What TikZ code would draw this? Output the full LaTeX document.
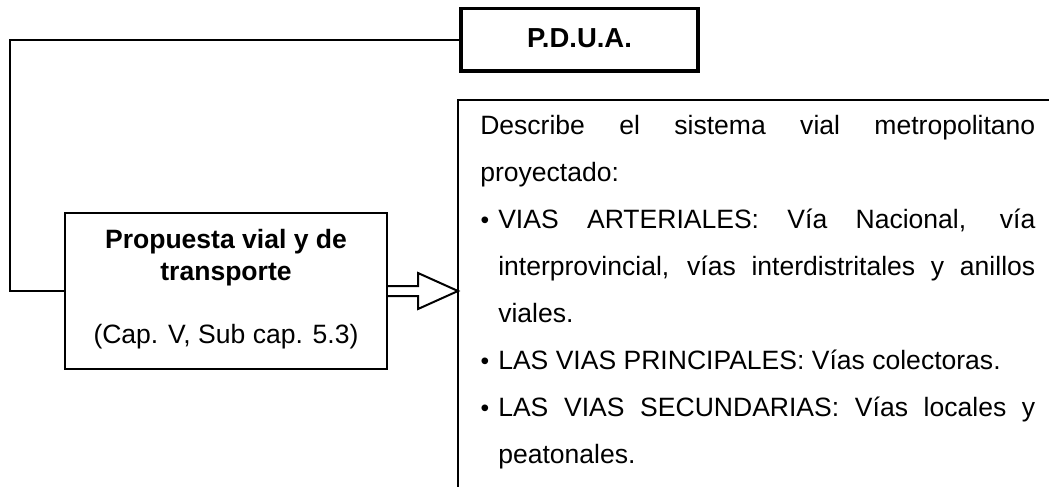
\documentclass[tikz,border=0pt]{standalone}
\usepackage{fontspec}
\setmainfont{Liberation Sans}
\begin{document}
\begin{tikzpicture}[x=0.75pt,y=-0.75pt,
  box/.style={draw, line width=1.5pt, inner sep=0pt, fill=white},
  ln/.style={line width=1.5pt},
  body/.style={font=\fontsize{19.9}{24}\selectfont, inner sep=0pt},
  bodyb/.style={font=\fontsize{19.9}{24}\selectfont\bfseries, inner sep=0pt},
  bul/.style={font=\fontsize{18.5}{22}\selectfont, inner sep=0pt, anchor=base}]
\useasboundingbox (0,0) rectangle (1049,487);
\fill[white] (0,0) rectangle (1049,487);
% P.D.U.A. box
\node[box, line width=2.4pt, minimum width=177.75pt, minimum height=46.9pt] (pdua) at (579.5,39.75) {};
\node[font=\fontsize{20.6}{24}\selectfont\bfseries, inner sep=0pt, anchor=base] (pduat) at (579.5,47.5) {P.D.U.A.};
% left box
\node[box, minimum width=241.5pt, minimum height=117pt] (prop) at (226,291) {};
\node[bodyb, anchor=base] (p1) at (226,248) {Propuesta vial y de};
\node[bodyb, anchor=base] (p2) at (226,280) {transporte};
\node[body, anchor=base] (p3) at (226,343) {(Cap. V, Sub cap. 5.3)};
% connector
\coordinate (corner) at (10,39.75);
\draw[ln] (pdua.west) -- (corner) |- (prop.west);
% right box (open)
\coordinate (rtop) at (1049,100);
\coordinate (rcorner) at (458,100);
\coordinate (rbot) at (458,487);
\draw[ln] (rtop) -- (rcorner) -- (rbot);
\coordinate (tip) at (458,291);
% block arrow
\draw[ln, fill=white, line join=miter] (prop.east |- 0,286) -- (418,286) -- (418,273) -- (tip) -- (418,309) -- (418,296) -- (prop.east |- 0,296);
% right box text
\node[body, anchor=base west] (r1) at (480,134) {\makebox[416.25pt][s]{Describe el sistema vial metropolitano}};
\node[body, anchor=base west] (r2) at (480,181) {proyectado:};
\node[bul] (b1) at (485,228) {\textbullet};
\node[body, anchor=base west] (r3) at (498,228) {\makebox[402.75pt][s]{VIAS ARTERIALES: Vía Nacional, vía}};
\node[body, anchor=base west] (r4) at (498,275) {\makebox[402.75pt][s]{interprovincial, vías interdistritales y anillos}};
\node[body, anchor=base west] (r5) at (498,322) {viales.};
\node[bul] (b2) at (485,369) {\textbullet};
\node[body, anchor=base west] (r6) at (498,369) {LAS VIAS PRINCIPALES: Vías colectoras.};
\node[bul] (b3) at (485,416) {\textbullet};
\node[body, anchor=base west] (r7) at (498,416) {\makebox[402.75pt][s]{LAS VIAS SECUNDARIAS: Vías locales y}};
\node[body, anchor=base west] (r8) at (498,463) {peatonales.};
\end{tikzpicture}
\end{document}
